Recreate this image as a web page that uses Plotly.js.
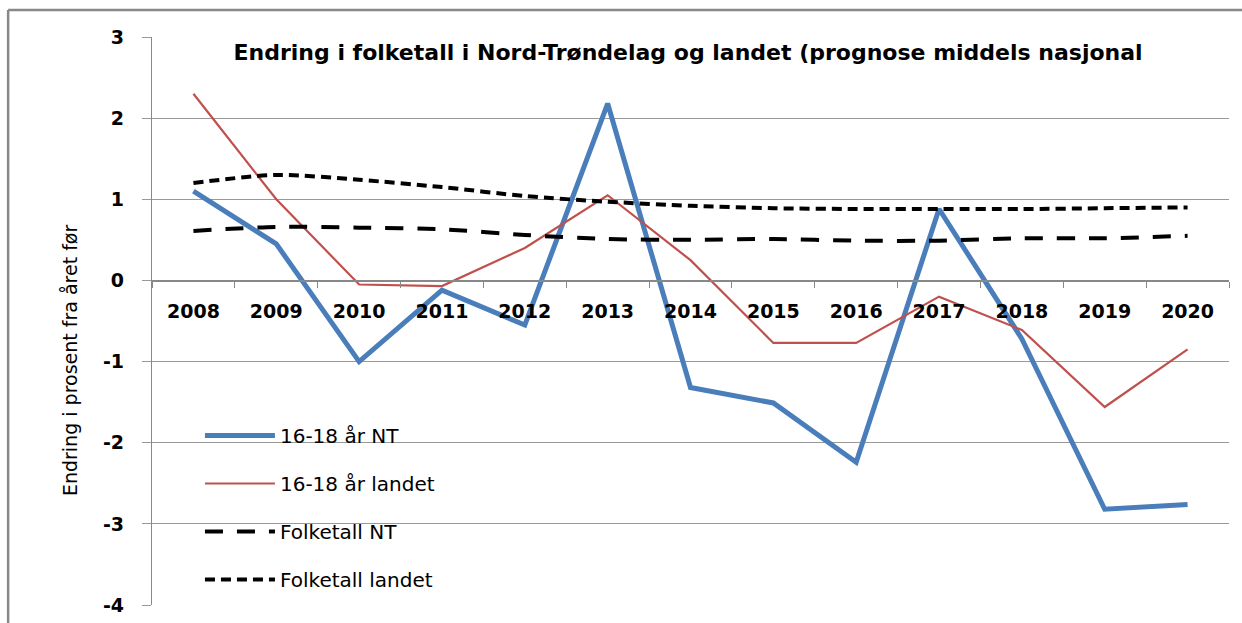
<!DOCTYPE html>
<html>
<head>
<meta charset="utf-8">
<script src="https://cdn.plot.ly/plotly-3.0.1.min.js"></script>
<style>html,body{margin:0;padding:0;background:#fff;}#chart{width:1242px;height:623px;}</style>
</head>
<body>
<div id="chart"></div>
<script>
const years = ["2008","2009","2010","2011","2012","2013","2014","2015","2016","2017","2018","2019","2020"];
const ungdomNT = [1.10, 0.45, -1.00, -0.12, -0.55, 2.18, -1.32, -1.51, -2.24, 0.88, -0.72, -2.82, -2.76];
const ungdomLandet = [2.30, 1.00, -0.05, -0.07, 0.40, 1.05, 0.25, -0.77, -0.77, -0.20, -0.61, -1.56, -0.85];
const folketallNT = [0.61, 0.66, 0.65, 0.63, 0.56, 0.51, 0.50, 0.51, 0.49, 0.49, 0.52, 0.52, 0.55];
const folketallLandet = [1.20, 1.30, 1.24, 1.15, 1.04, 0.97, 0.92, 0.89, 0.88, 0.88, 0.88, 0.89, 0.90];

const yTickVals = [-4, -3, -2, -1, 0, 1, 2, 3];
const yTickText = ["-4", "-3", "-2", "-1", "0", "1", "2", "3"];

const seriesNames = ["16-18 år NT", "16-18 år landet", "Folketall NT", "Folketall landet"];
const titleText = "Endring i folketall i Nord-Trøndelag og landet (prognose middels nasjonal";
const yTitle = "Endring i prosent fra året før";

const FONT = "'DejaVu Sans', sans-serif";

const traces = [
  {x: years, y: ungdomNT, name: seriesNames[0], type: "scatter", mode: "lines",
   line: {color: "#4A7EBB", width: 5}, legendgroup: "a"},
  {x: years, y: ungdomLandet, name: seriesNames[1], type: "scatter", mode: "lines",
   line: {color: "#C0504D", width: 2.2}, legendgroup: "b"},
  {x: years, y: folketallNT, name: seriesNames[2], type: "scatter", mode: "lines",
   line: {color: "#000", width: 4, dash: "18px,14px", shape: "spline", smoothing: 0.8}, legendgroup: "c"},
  {x: years, y: folketallLandet, name: seriesNames[3], type: "scatter", mode: "lines",
   line: {color: "#000", width: 4, dash: "10px,6px", shape: "spline", smoothing: 0.8}, legendgroup: "d"}
];

const layout = {
  width: 1242, height: 623,
  margin: {l: 152, r: 13, t: 37, b: 18, pad: 0},
  paper_bgcolor: "#fff", plot_bgcolor: "#fff",
  font: {family: FONT, color: "#000"},
  title: {text: "<b>" + titleText + "</b>", font: {family: FONT, size: 22, color: "#000"},
          x: 0.554, xanchor: "center", xref: "container", y: 1 - 52/623, yanchor: "middle", yref: "container"},
  showlegend: true,
  legend: {x: (200-152)/1078, y: (605-416)/568, xanchor: "left", yanchor: "top",
           bgcolor: "rgba(0,0,0,0)", font: {family: FONT, size: 20, color: "#000"},
           traceorder: "grouped", tracegroupgap: 19, itemwidth: 70},
  xaxis: {type: "category", range: [-0.5, 12.5], anchor: "free", position: 4/7,
          showline: true, linecolor: "#888", linewidth: 1.2,
          ticks: "outside", tickson: "boundaries", ticklen: 6, tickcolor: "#888",
          tickfont: {family: FONT, size: 19, color: "#000", weight: "bold"},
          ticklabelstandoff: 14,
          showgrid: false, zeroline: false, fixedrange: true},
  yaxis: {range: [-4, 3], tickmode: "array", tickvals: yTickVals, ticktext: yTickText,
          showgrid: true, gridcolor: "#999", gridwidth: 1,
          showline: true, linecolor: "#888", linewidth: 1.2, ticks: "outside", ticklen: 9, tickcolor: "#999",
          tickfont: {family: FONT, size: 19, color: "#000", weight: "bold"},
          ticklabelstandoff: 14, zeroline: false, fixedrange: true},
  annotations: [
    {text: yTitle, xref: "paper", yref: "paper", x: (70-152)/1078, y: (605-360)/568,
     textangle: -90, showarrow: false, xanchor: "center", yanchor: "middle",
     font: {family: FONT, size: 19, color: "#000"}}
  ],
  shapes: [
    {type: "line", xref: "paper", yref: "paper", x0: (8-152)/1078, x1: (8-152)/1078,
     y0: (605-10)/568, y1: (605-640)/568, line: {color: "#888", width: 2.5}},
    {type: "line", xref: "paper", yref: "paper", x0: (8-152)/1078, x1: (1250-152)/1078,
     y0: (605-10)/568, y1: (605-10)/568, line: {color: "#888", width: 2.5}}
  ]
};

Plotly.newPlot("chart", traces, layout, {displayModeBar: false, staticPlot: true});
</script>
</body>
</html>
